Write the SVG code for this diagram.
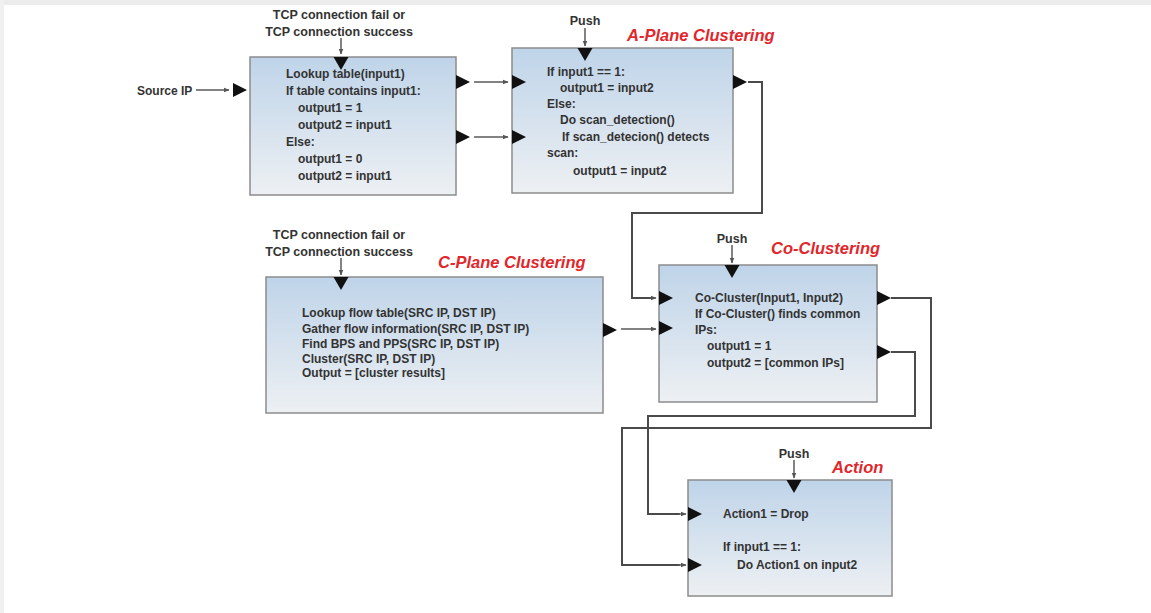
<svg xmlns="http://www.w3.org/2000/svg" width="1151" height="613" viewBox="0 0 1151 613">
  <defs>
    <linearGradient id="boxFill" x1="0" y1="0" x2="0" y2="1">
      <stop offset="0" stop-color="#bfd4e9"/>
      <stop offset="1" stop-color="#edf0f3"/>
    </linearGradient>
    <!-- small arrow tip used on the wires -->
    <marker id="tip" viewBox="0 0 10 10" refX="9" refY="5" markerWidth="6" markerHeight="6" orient="auto" markerUnits="userSpaceOnUse">
      <path d="M0,1 L10,5 L0,9 Z" fill="#555"/>
    </marker>
    <!-- port triangles -->
    <path id="portR" d="M0,-7 L14,0 L0,7 Z"/>
    <path id="portD" d="M-7.5,0 L7.5,0 L0,13 Z"/>
  </defs>
  <style>
    .box { fill: url(#boxFill); stroke: #8c8c8c; stroke-width: 1.5; }
    .port { fill: #111; }
    .wire { fill: none; stroke: #4a4a4a; stroke-width: 2; }
    .feed { fill: none; stroke: #5a5a5a; stroke-width: 1.5; marker-end: url(#tip); }
    .code { font-family: "Liberation Sans", Arial, sans-serif; font-size: 12px; font-weight: bold; fill: #333; }
    .lbl { font-family: "Liberation Sans", Arial, sans-serif; font-size: 12.5px; font-weight: bold; fill: #333; text-anchor: middle; }
    .title { font-family: "Liberation Sans", Arial, sans-serif; font-size: 16.5px; font-weight: bold; font-style: italic; fill: #e1262c; }
  </style>

  <!-- page frame -->
  <rect x="0" y="0" width="1151" height="613" fill="#ffffff"/>
  <rect x="0" y="0" width="1151" height="5" fill="#ececec"/>
  <rect x="0" y="0" width="4" height="613" fill="#f0f0f0"/>

  <!-- connectors -->
  <g id="connectors">
    <path class="feed" d="M196,90 L229,90"/>
    <path class="feed" d="M474,82 L508,82"/>
    <path class="feed" d="M474,137 L508,137"/>
    <path class="wire" d="M748,82 L762,82 L762,213 L632,213 L632,298 L652,298"/>
    <path class="feed" d="M650,298 L656,298"/>
    <path class="feed" d="M621,329 L656,329"/>
    <path class="wire" d="M891,298 L931,298 L931,428 L622,428 L622,565 L680,565"/>
    <path class="feed" d="M678,565 L686,565"/>
    <path class="wire" d="M891,352 L915,352 L915,416 L648,416 L648,514 L680,514"/>
    <path class="feed" d="M678,514 L686,514"/>
    <!-- trigger feeds from above -->
    <path class="feed" d="M341,38 L341,54"/>
    <path class="feed" d="M585,28 L585,46"/>
    <path class="feed" d="M341,258 L341,275"/>
    <path class="feed" d="M732,245 L732,263"/>
    <path class="feed" d="M794,460 L794,478"/>
  </g>

  <!-- lookup table stage -->
  <g id="lookup">
    <text class="lbl" x="339" y="19">TCP connection fail or</text>
    <text class="lbl" x="339" y="36">TCP connection success</text>
    <text class="code" x="137" y="95">Source IP</text>
    <rect class="box" x="250" y="57" width="206" height="138"/>
    <use href="#portD" class="port" x="341" y="57"/>
    <use href="#portR" class="port" x="233" y="90"/>
    <use href="#portR" class="port" x="456" y="82"/>
    <use href="#portR" class="port" x="456" y="137"/>
    <text class="code" x="286" y="78">Lookup table(input1)</text>
    <text class="code" x="286" y="95">If table contains input1:</text>
    <text class="code" x="298" y="112">output1 = 1</text>
    <text class="code" x="298" y="129">output2 = input1</text>
    <text class="code" x="286" y="146">Else:</text>
    <text class="code" x="298" y="163">output1 = 0</text>
    <text class="code" x="298" y="180">output2 = input1</text>
  </g>

  <!-- A-plane clustering stage -->
  <g id="a-plane">
    <text class="lbl" x="585" y="25">Push</text>
    <text class="title" x="627" y="41">A-Plane Clustering</text>
    <rect class="box" x="512" y="48" width="221" height="145"/>
    <use href="#portD" class="port" x="585" y="48"/>
    <use href="#portR" class="port" x="512" y="82"/>
    <use href="#portR" class="port" x="512" y="137"/>
    <use href="#portR" class="port" x="733" y="82"/>
    <text class="code" x="547" y="76">If input1 == 1:</text>
    <text class="code" x="560" y="92">output1 = input2</text>
    <text class="code" x="547" y="108">Else:</text>
    <text class="code" x="560" y="124">Do scan_detection()</text>
    <text class="code" x="562" y="141">If scan_detecion() detects</text>
    <text class="code" x="547" y="157">scan:</text>
    <text class="code" x="573" y="175">output1 = input2</text>
  </g>

  <!-- C-plane clustering stage -->
  <g id="c-plane">
    <text class="lbl" x="339" y="239">TCP connection fail or</text>
    <text class="lbl" x="339" y="256">TCP connection success</text>
    <text class="title" x="438" y="268">C-Plane Clustering</text>
    <rect class="box" x="266" y="277" width="337" height="136"/>
    <use href="#portD" class="port" x="341" y="277"/>
    <use href="#portR" class="port" x="603" y="330"/>
    <text class="code" x="302" y="317">Lookup flow table(SRC IP, DST IP)</text>
    <text class="code" x="302" y="333">Gather flow information(SRC IP, DST IP)</text>
    <text class="code" x="302" y="348">Find BPS and PPS(SRC IP, DST IP)</text>
    <text class="code" x="302" y="363">Cluster(SRC IP, DST IP)</text>
    <text class="code" x="302" y="377">Output = [cluster results]</text>
  </g>

  <!-- co-clustering stage -->
  <g id="co-clustering">
    <text class="lbl" x="732" y="243">Push</text>
    <text class="title" x="771" y="254">Co-Clustering</text>
    <rect class="box" x="659" y="265" width="218" height="137"/>
    <use href="#portD" class="port" x="732" y="265"/>
    <use href="#portR" class="port" x="659" y="298"/>
    <use href="#portR" class="port" x="659" y="328"/>
    <use href="#portR" class="port" x="877" y="298"/>
    <use href="#portR" class="port" x="877" y="352"/>
    <text class="code" x="695" y="302">Co-Cluster(Input1, Input2)</text>
    <text class="code" x="695" y="318">If Co-Cluster() finds common</text>
    <text class="code" x="695" y="334">IPs:</text>
    <text class="code" x="707" y="350">output1 = 1</text>
    <text class="code" x="707" y="367">output2 = [common IPs]</text>
  </g>

  <!-- action stage -->
  <g id="action">
    <text class="lbl" x="794" y="458">Push</text>
    <text class="title" x="832" y="473">Action</text>
    <rect class="box" x="688" y="480" width="204" height="116"/>
    <use href="#portD" class="port" x="794" y="480"/>
    <use href="#portR" class="port" x="688" y="514"/>
    <use href="#portR" class="port" x="688" y="565"/>
    <text class="code" x="723" y="518">Action1 = Drop</text>
    <text class="code" x="723" y="551">If input1 == 1:</text>
    <text class="code" x="737" y="569">Do Action1 on input2</text>
  </g>
</svg>
